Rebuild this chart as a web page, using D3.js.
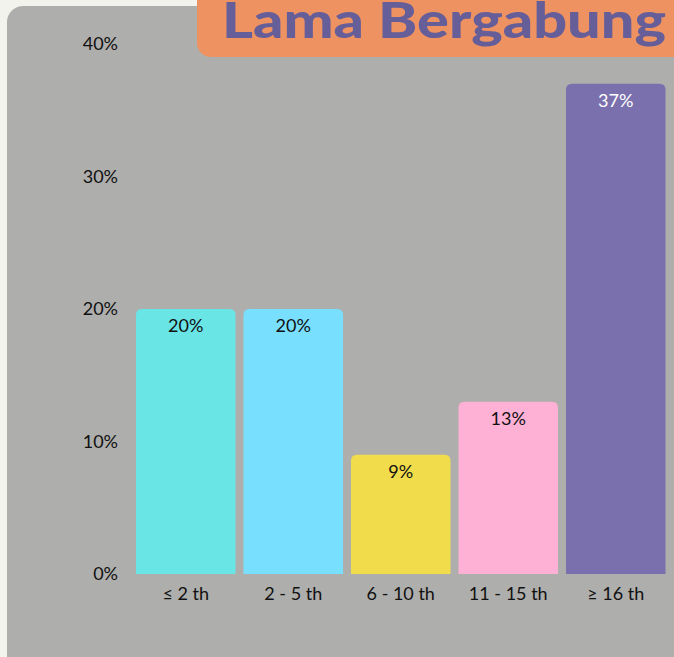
<!DOCTYPE html>
<html>
<head>
<meta charset="utf-8">
<script src="https://cdn.jsdelivr.net/npm/d3@7"></script>
<style>
  body { margin: 0; background: #f3f3ee; }
  svg { display: block; }
  text { font-family: Lato, "Open Sans", sans-serif; }
</style>
</head>
<body>
<svg id="svg1"></svg>
<script>
var categories = ['≤ 2 th', '2 - 5 th', '6 - 10 th', '11 - 15 th', '≥ 16 th'];
var values = [20, 20, 9, 13, 37];
var barColors = ['#6ae5e6', '#79dffe', '#f1dc4c', '#feb0d5', '#7a70ad'];
var labelColors = ['#111', '#111', '#111', '#111', '#fff'];
var yTicks = [0, 10, 20, 30, 40];
var title = 'Lama Bergabung';

var W = 674, H = 657;
var svg = d3.select('#svg1').attr('width', W).attr('height', H);

// panel background
svg.append('rect')
  .attr('x', 7).attr('y', 6)
  .attr('width', 720).attr('height', 720)
  .attr('rx', 16)
  .attr('fill', '#aeaeac');

// title box
svg.append('rect')
  .attr('x', 197).attr('y', -30)
  .attr('width', 520).attr('height', 87)
  .attr('rx', 14)
  .attr('fill', '#ee9262');

svg.append('text')
  .attr('x', 222).attr('y', 38)
  .attr('textLength', 444)
  .attr('lengthAdjust', 'spacingAndGlyphs')
  .style('font-family', 'Lato, sans-serif')
  .style('font-weight', 900)
  .style('font-size', '50px')
  .attr('fill', '#665e99')
  .text(title);

var x = d3.scaleBand()
  .domain(categories)
  .range([132, 669.5])
  .paddingInner(0.074)
  .paddingOuter(0.037);

var y = d3.scaleLinear()
  .domain([0, 40])
  .range([574, 44]);

// y tick labels
svg.selectAll('.ytick')
  .data(yTicks)
  .enter()
  .append('text')
  .attr('class', 'ytick')
  .attr('x', 118)
  .attr('y', function(d) { return y(d); })
  .attr('dy', '0.35em')
  .attr('text-anchor', 'end')
  .style('font-size', '18px')
  .attr('fill', '#111')
  .text(function(d) { return d + '%'; });

// bars with rounded top corners
function barPath(x0, y0, w, h, r) {
  r = Math.min(r, h, w / 2);
  return 'M' + x0 + ',' + (y0 + h) +
    'V' + (y0 + r) +
    'Q' + x0 + ',' + y0 + ' ' + (x0 + r) + ',' + y0 +
    'H' + (x0 + w - r) +
    'Q' + (x0 + w) + ',' + y0 + ' ' + (x0 + w) + ',' + (y0 + r) +
    'V' + (y0 + h) + 'Z';
}

var data = categories.map(function(c, i) {
  return { category: c, value: values[i], color: barColors[i], label: labelColors[i] };
});

svg.selectAll('.bar')
  .data(data)
  .enter()
  .append('path')
  .attr('class', 'bar')
  .attr('d', function(d) {
    return barPath(x(d.category), y(d.value), x.bandwidth(), y(0) - y(d.value), 6);
  })
  .attr('fill', function(d) { return d.color; });

svg.selectAll('.vlabel')
  .data(data)
  .enter()
  .append('text')
  .attr('class', 'vlabel')
  .attr('x', function(d) { return x(d.category) + x.bandwidth() / 2; })
  .attr('y', function(d) { return y(d.value) + 23; })
  .attr('text-anchor', 'middle')
  .style('font-size', '18px')
  .attr('fill', function(d) { return d.label; })
  .text(function(d) { return d.value + '%'; });

// x labels
svg.selectAll('.xlabel')
  .data(categories)
  .enter()
  .append('text')
  .attr('class', 'xlabel')
  .attr('x', function(d) { return x(d) + x.bandwidth() / 2; })
  .attr('y', 600)
  .attr('text-anchor', 'middle')
  .style('font-size', '18px')
  .attr('fill', '#111')
  .text(function(d) { return d; });
</script>
</body>
</html>
